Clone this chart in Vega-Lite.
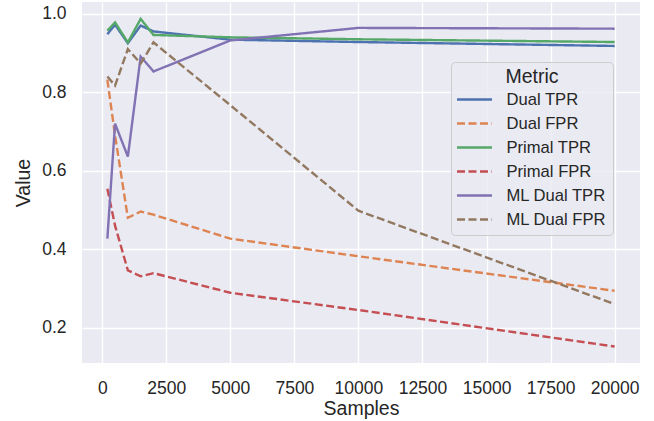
{
  "$schema": "https://vega.github.io/schema/vega-lite/v6.json",
  "width": 558,
  "height": 361,
  "autosize": {"type": "none"},
  "padding": {"left": 82, "top": 2, "right": 14, "bottom": 58},
  "background": "white",
  "config": {
    "font": "Liberation Sans",
    "view": {"fill": "#eaeaf2", "stroke": null},
    "axis": {
      "grid": true, "gridColor": "white", "gridWidth": 1.3,
      "domain": false, "ticks": false, "labelOverlap": false, "labelFlush": false, "labelBound": false,
      "labelFontSize": 17.5, "labelColor": "#262626", "titleFontSize": 19.5, "titleColor": "#262626",
      "titleFontWeight": "normal", "labelPadding": 16
    }
  },
  "data": {"values": [
    {"Samples": 200, "Value": 0.948, "Metric": "Dual TPR"},
    {"Samples": 500, "Value": 0.972, "Metric": "Dual TPR"},
    {"Samples": 1000, "Value": 0.925, "Metric": "Dual TPR"},
    {"Samples": 1500, "Value": 0.970, "Metric": "Dual TPR"},
    {"Samples": 2000, "Value": 0.955, "Metric": "Dual TPR"},
    {"Samples": 5000, "Value": 0.934, "Metric": "Dual TPR"},
    {"Samples": 10000, "Value": 0.928, "Metric": "Dual TPR"},
    {"Samples": 20000, "Value": 0.918, "Metric": "Dual TPR"},
    {"Samples": 200, "Value": 0.832, "Metric": "Dual FPR"},
    {"Samples": 500, "Value": 0.69, "Metric": "Dual FPR"},
    {"Samples": 1000, "Value": 0.48, "Metric": "Dual FPR"},
    {"Samples": 1500, "Value": 0.496, "Metric": "Dual FPR"},
    {"Samples": 2000, "Value": 0.488, "Metric": "Dual FPR"},
    {"Samples": 5000, "Value": 0.427, "Metric": "Dual FPR"},
    {"Samples": 10000, "Value": 0.382, "Metric": "Dual FPR"},
    {"Samples": 20000, "Value": 0.294, "Metric": "Dual FPR"},
    {"Samples": 200, "Value": 0.957, "Metric": "Primal TPR"},
    {"Samples": 500, "Value": 0.978, "Metric": "Primal TPR"},
    {"Samples": 1000, "Value": 0.927, "Metric": "Primal TPR"},
    {"Samples": 1500, "Value": 0.987, "Metric": "Primal TPR"},
    {"Samples": 2000, "Value": 0.946, "Metric": "Primal TPR"},
    {"Samples": 5000, "Value": 0.940, "Metric": "Primal TPR"},
    {"Samples": 10000, "Value": 0.935, "Metric": "Primal TPR"},
    {"Samples": 20000, "Value": 0.928, "Metric": "Primal TPR"},
    {"Samples": 200, "Value": 0.554, "Metric": "Primal FPR"},
    {"Samples": 500, "Value": 0.46, "Metric": "Primal FPR"},
    {"Samples": 1000, "Value": 0.346, "Metric": "Primal FPR"},
    {"Samples": 1500, "Value": 0.331, "Metric": "Primal FPR"},
    {"Samples": 2000, "Value": 0.339, "Metric": "Primal FPR"},
    {"Samples": 5000, "Value": 0.289, "Metric": "Primal FPR"},
    {"Samples": 10000, "Value": 0.245, "Metric": "Primal FPR"},
    {"Samples": 20000, "Value": 0.152, "Metric": "Primal FPR"},
    {"Samples": 200, "Value": 0.427, "Metric": "ML Dual TPR"},
    {"Samples": 500, "Value": 0.72, "Metric": "ML Dual TPR"},
    {"Samples": 1000, "Value": 0.636, "Metric": "ML Dual TPR"},
    {"Samples": 1500, "Value": 0.891, "Metric": "ML Dual TPR"},
    {"Samples": 2000, "Value": 0.853, "Metric": "ML Dual TPR"},
    {"Samples": 5000, "Value": 0.932, "Metric": "ML Dual TPR"},
    {"Samples": 10000, "Value": 0.964, "Metric": "ML Dual TPR"},
    {"Samples": 20000, "Value": 0.962, "Metric": "ML Dual TPR"},
    {"Samples": 200, "Value": 0.84, "Metric": "ML Dual FPR"},
    {"Samples": 500, "Value": 0.817, "Metric": "ML Dual FPR"},
    {"Samples": 1000, "Value": 0.91, "Metric": "ML Dual FPR"},
    {"Samples": 1500, "Value": 0.873, "Metric": "ML Dual FPR"},
    {"Samples": 2000, "Value": 0.927, "Metric": "ML Dual FPR"},
    {"Samples": 5000, "Value": 0.767, "Metric": "ML Dual FPR"},
    {"Samples": 10000, "Value": 0.498, "Metric": "ML Dual FPR"},
    {"Samples": 20000, "Value": 0.26, "Metric": "ML Dual FPR"}
  ]},
  "mark": {"type": "line", "strokeWidth": 2.4, "clip": true},
  "encoding": {
    "x": {"field": "Samples", "type": "quantitative", "scale": {"domain": [-790, 20990], "nice": false, "zero": false},
      "axis": {"values": [0, 2500, 5000, 7500, 10000, 12500, 15000, 17500, 20000], "format": "d", "titlePadding": 3}},
    "y": {"field": "Value", "type": "quantitative", "scale": {"domain": [0.11, 1.03], "nice": false, "zero": false},
      "axis": {"values": [0.2, 0.4, 0.6, 0.8, 1.0], "format": ".1f", "titlePadding": 8}},
    "color": {"field": "Metric", "type": "nominal",
      "sort": ["Dual TPR", "Dual FPR", "Primal TPR", "Primal FPR", "ML Dual TPR", "ML Dual FPR"],
      "scale": {"domain": ["Dual TPR", "Dual FPR", "Primal TPR", "Primal FPR", "ML Dual TPR", "ML Dual FPR"],
        "range": ["#4c72b0", "#dd8452", "#55a868", "#c44e52", "#8172b3", "#937860"]},
      "legend": {
        "orient": "none", "legendX": 369, "legendY": 60,
        "title": "Metric", "titleFontSize": 19.5, "titleFontWeight": "normal", "titleColor": "#262626",
        "titleAnchor": "middle", "titleAlign": "center", "titlePadding": 2,
        "labelFontSize": 16.6, "labelColor": "#262626", "labelOffset": 29.5,
        "symbolType": "M-2,0H2", "symbolSize": 306.25, "symbolStrokeWidth": 2.4,
        "fillColor": "rgba(234,234,242,0.8)", "strokeColor": "#cccccc", "cornerRadius": 4,
        "padding": 6, "rowPadding": 5,
        "encode": {"symbols": {"update": {"x": {"value": 17.5}}}}
      }},
    "strokeDash": {"field": "Metric", "type": "nominal",
      "sort": ["Dual TPR", "Dual FPR", "Primal TPR", "Primal FPR", "ML Dual TPR", "ML Dual FPR"],
      "scale": {"domain": ["Dual TPR", "Dual FPR", "Primal TPR", "Primal FPR", "ML Dual TPR", "ML Dual FPR"],
        "range": [[1, 0], [8, 3.5], [1, 0], [8, 3.5], [1, 0], [8, 3.5]]},
      "legend": null}
  }
}
